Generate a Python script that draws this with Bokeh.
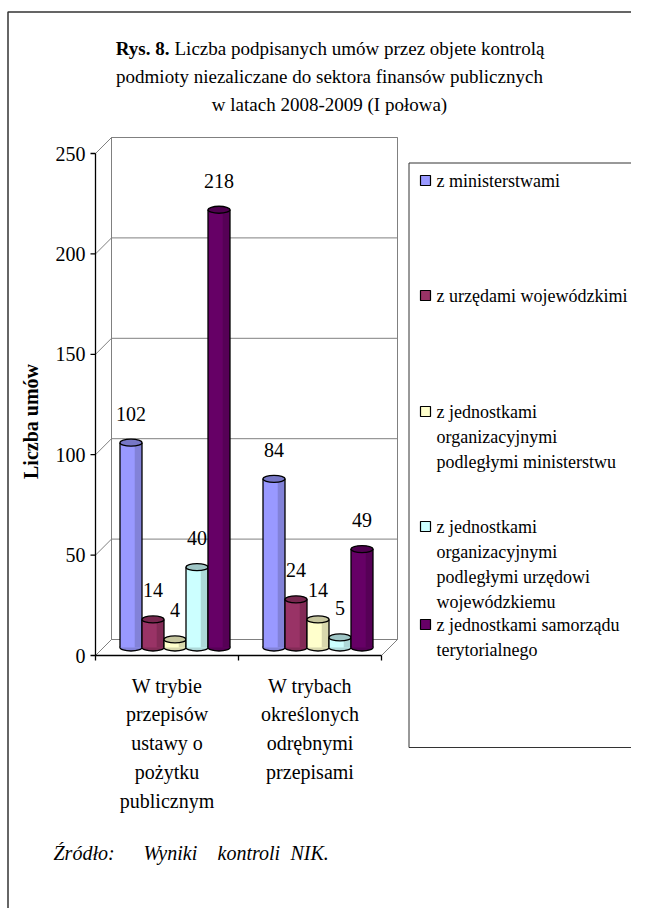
from math import pi
from bokeh.plotting import figure
from bokeh.models import Range1d, ColumnDataSource
from bokeh.core.properties import value
from bokeh.embed import file_html
from bokeh.resources import INLINE

# ---------------- data ----------------
categories = ["W trybie\nprzepisów\nustawy o\npożytku\npublicznym",
              "W trybach\nokreślonych\nodrębnymi\nprzepisami"]
series_names = ["z ministerstwami",
                "z urzędami wojewódzkimi",
                "z jednostkami\norganizacyjnymi\npodległymi ministerstwu",
                "z jednostkami\norganizacyjnymi\npodległymi urzędowi\nwojewódzkiemu",
                "z jednostkami samorządu\nterytorialnego"]
z_ministerstwami = [102, 84]
z_urzedami = [14, 24]
z_jedn_podl_ministerstwu = [4, 14]
z_jedn_podl_urzedowi = [40, 5]
z_jedn_samorzadu = [218, 49]
series_values = [z_ministerstwami, z_urzedami, z_jedn_podl_ministerstwu,
                 z_jedn_podl_urzedowi, z_jedn_samorzadu]
colors = ["#9999FF", "#993366", "#FFFFCC", "#CCFFFF", "#660066"]
y_ticks = [0, 50, 100, 150, 200, 250]
y_title = "Liczba umów"
title_bold = "Rys. 8."
title_lines = ["Liczba podpisanych umów przez objete kontrolą",
               "podmioty niezaliczane do sektora finansów publicznych",
               "w latach 2008-2009 (I połowa)"]
source_words = ["Źródło:", "Wyniki", "kontroli", "NIK."]

# ---------------- layout (picture pixels) ----------------
W, H = 631, 908
X0, SX = 166.5, 143.0     # x of first category centre, px per category
Y0, SY = 655.0, 2.008     # y of value 0 (front edge), px per unit


def PX(X):
    return (X - X0) / SX


def PY(Y):
    return (Y0 - Y) / SY


def dx(n):
    return n / SX


def dy(n):
    return n / SY


def shade(hexcol, f):
    h = hexcol.lstrip("#")
    r, g, b = (int(h[k:k + 2], 16) for k in (0, 2, 4))
    return "#%02x%02x%02x" % (int(r * f), int(g * f), int(b * f))


FONT = value("Liberation Serif")
GRAY = "#808080"

p = figure(width=W, height=H,
           x_range=Range1d(PX(0), PX(W)), y_range=Range1d(PY(H), PY(0)),
           output_backend="svg", toolbar_location=None, min_border=0,
           x_axis_location=None, y_axis_location=None, outline_line_color=None,
           background_fill_color="white", border_fill_color="white")
p.grid.visible = False

# outer frame (top and left edges visible)
p.line(x=[PX(7.5), PX(7.5), PX(700)], y=[PY(960), PY(11.5), PY(11.5)],
       line_color="#333333", line_width=1.5)

# ---------------- 3D walls ----------------
n_cat = len(categories)
x_lo, x_hi = -0.5, n_cat - 0.5
y_max = y_ticks[-1]
DX, DY = dx(16), dy(16)

p.patch(x=[x_lo, x_lo + DX, x_lo + DX, x_lo], y=[0, DY, y_max + DY, y_max],
        fill_color="white", line_color=GRAY, line_width=1)
p.quad(left=[x_lo + DX], right=[x_hi + DX], bottom=[DY], top=[y_max + DY],
       fill_color="white", line_color=GRAY, line_width=1)
p.patch(x=[x_lo, x_hi, x_hi + DX, x_lo + DX], y=[0, 0, DY, DY],
        fill_color="white", line_color=GRAY, line_width=1)
p.segment(x0=[x_lo + DX] * len(y_ticks), y0=[t + DY for t in y_ticks],
          x1=[x_hi + DX] * len(y_ticks), y1=[t + DY for t in y_ticks],
          line_color=GRAY, line_width=1)
p.segment(x0=[x_lo] * len(y_ticks), y0=y_ticks,
          x1=[x_lo + DX] * len(y_ticks), y1=[t + DY for t in y_ticks],
          line_color=GRAY, line_width=1)

# ---------------- bars (cylinders) ----------------
n_ser = len(series_values)
BW = dx(22)
MX, MY = dx(8), dy(8)
label_src = dict(x=[], y=[], t=[])
for i, (vals, col) in enumerate(zip(series_values, colors)):
    xc = [c + (i - (n_ser - 1) / 2) * BW + MX for c in range(n_cat)]
    src = ColumnDataSource(dict(
        xc=xc,
        left=[x - BW / 2 for x in xc],
        right=[x + BW / 2 for x in xc],
        mid=[x + BW / 2 - 0.33 * BW for x in xc],
        bot=[MY] * n_cat,
        top=[v + MY for v in vals]))
    dark = shade(col, 0.85)
    topc = shade(col, 0.78)
    p.ellipse(x="xc", y="bot", width=BW, height=7, height_units="screen",
              fill_color=dark, line_color="black", line_width=1.3, source=src)
    p.quad(left="left", right="right", bottom="bot", top="top",
           fill_color=col, line_color=None, source=src)
    p.quad(left="mid", right="right", bottom="bot", top="top",
           fill_color=dark, line_color=None, source=src)
    p.segment(x0="left", y0="bot", x1="left", y1="top", line_color="black",
              line_width=1.3, source=src)
    p.segment(x0="right", y0="bot", x1="right", y1="top", line_color="black",
              line_width=1.3, source=src)
    p.ellipse(x="xc", y="top", width=BW, height=7, height_units="screen",
              fill_color=topc, line_color="black", line_width=1.3, source=src)
    label_src["x"] += xc
    label_src["y"] += [v + MY for v in vals]
    label_src["t"] += [str(v) for v in vals]

p.text(x="x", y="y", text="t", source=ColumnDataSource(label_src), y_offset=-29,
       text_align="center", text_baseline="middle", text_font=FONT,
       text_font_size="20px", text_color="black")

# ---------------- front axes ----------------
p.segment(x0=[x_lo], y0=[0], x1=[x_lo], y1=[y_max], line_color="black", line_width=1.3)
p.segment(x0=[x_lo], y0=[0], x1=[x_hi], y1=[0], line_color="black", line_width=1.3)
p.segment(x0=[x_lo - dx(5)] * len(y_ticks), y0=y_ticks, x1=[x_lo] * len(y_ticks),
          y1=y_ticks, line_color="black", line_width=1.3)
xt = [x_lo + k for k in range(n_cat + 1)]
p.segment(x0=xt, y0=[0] * len(xt), x1=xt, y1=[-dy(5)] * len(xt),
          line_color="black", line_width=1.3)
p.text(x=[x_lo] * len(y_ticks), y=y_ticks, text=[str(t) for t in y_ticks],
       x_offset=-10, text_align="right", text_baseline="middle", text_font=FONT,
       text_font_size="20px", text_color="black")
p.text(x=list(range(n_cat)), y=[0] * n_cat, text=categories, y_offset=19,
       text_align="center", text_baseline="top", text_font=FONT,
       text_font_size="20px", text_line_height=1.31, text_color="black")
p.text(x=[PX(30)], y=[PY(421)], text=[y_title], angle=pi / 2,
       text_align="center", text_baseline="middle", text_font=FONT,
       text_font_size="20px", text_font_style="bold", text_color="black")

# ---------------- title ----------------
p.text(x=[PX(169)], y=[PY(48)], text=[title_bold], text_align="right",
       text_baseline="middle", text_font=FONT, text_font_size="19px",
       text_font_style="bold", text_color="black")
p.text(x=[PX(174)], y=[PY(48)], text=[title_lines[0]], text_align="left",
       text_baseline="middle", text_font=FONT, text_font_size="19px", text_color="black")
p.text(x=[PX(329)] * 2, y=[PY(76), PY(104)], text=title_lines[1:], text_align="center",
       text_baseline="middle", text_font=FONT, text_font_size="19px", text_color="black")

# ---------------- legend ----------------
p.quad(left=[PX(408.5)], right=[PX(700)], bottom=[PY(747)], top=[PY(162.5)],
       fill_color=None, line_color="#333333", line_width=1)
leg_y = [180, 295, 411, 526, 624]
p.scatter(x=[PX(425)] * n_ser, y=[PY(v) for v in leg_y], marker="square", size=10,
          fill_color=colors, line_color="black", line_width=1.2)
p.text(x=[PX(436)] * n_ser, y=[PY(v - 10) for v in leg_y], text=series_names,
       text_align="left", text_baseline="top", text_font=FONT, text_font_size="18px",
       text_line_height=1.26, text_color="black")

# ---------------- source ----------------
p.text(x=[PX(v) for v in (53, 143, 217, 290)], y=[PY(852)] * 4, text=source_words,
       text_align="left", text_baseline="middle", text_font=FONT, text_font_size="20px",
       text_font_style="italic", text_color="black")

open("out.html", "w").write(file_html(p, INLINE))
